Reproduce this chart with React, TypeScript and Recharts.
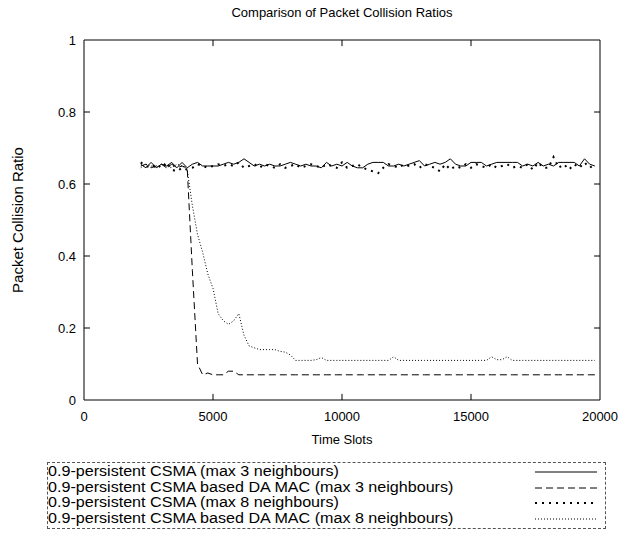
import { LineChart, Line, XAxis, YAxis, ReferenceArea, ReferenceLine } from "recharts";

// time slot samples
const timeSlots = [
  2200, 2400, 2600, 2800, 3000, 3200, 3400, 3600, 3800, 4000,
  4200, 4400, 4600, 4800, 5000, 5200, 5400, 5600, 5800, 6000,
  6200, 6400, 6600, 6800, 7000, 7200, 7400, 7600, 7800, 8000,
  8200, 8400, 8600, 8800, 9000, 9200, 9400, 9600, 9800, 10000,
  10200, 10400, 10600, 10800, 11000, 11200, 11400, 11600, 11800, 12000,
  12200, 12400, 12600, 12800, 13000, 13200, 13400, 13600, 13800, 14000,
  14200, 14400, 14600, 14800, 15000, 15200, 15400, 15600, 15800, 16000,
  16200, 16400, 16600, 16800, 17000, 17200, 17400, 17600, 17800, 18000,
  18200, 18400, 18600, 18800, 19000, 19200, 19400, 19600, 19800,
];

const csma3 = [
  0.655, 0.645, 0.66, 0.645, 0.655, 0.65, 0.66, 0.645, 0.66, 0.645,
  0.655, 0.66, 0.65, 0.65, 0.65, 0.65, 0.655, 0.66, 0.655, 0.66,
  0.67, 0.66, 0.65, 0.655, 0.65, 0.655, 0.65, 0.65, 0.655, 0.66,
  0.655, 0.65, 0.655, 0.65, 0.65, 0.645, 0.66, 0.65, 0.655, 0.65,
  0.66, 0.65, 0.645, 0.645, 0.655, 0.66, 0.66, 0.66, 0.65, 0.65,
  0.655, 0.65, 0.655, 0.66, 0.665, 0.65, 0.655, 0.66, 0.655, 0.66,
  0.67, 0.655, 0.65, 0.65, 0.66, 0.66, 0.66, 0.65, 0.655, 0.66,
  0.66, 0.66, 0.66, 0.66, 0.65, 0.655, 0.65, 0.66, 0.65, 0.655,
  0.65, 0.66, 0.66, 0.66, 0.66, 0.65, 0.67, 0.655, 0.65,
];

const daMac3 = [
  0.65, 0.655, 0.645, 0.65, 0.655, 0.645, 0.655, 0.645, 0.65, 0.645,
  0.36, 0.1, 0.07, 0.075, 0.07, 0.07, 0.07, 0.08, 0.08, 0.07,
  0.07, 0.07, 0.07, 0.07, 0.07, 0.07, 0.07, 0.07, 0.07, 0.07,
  0.07, 0.07, 0.07, 0.07, 0.07, 0.07, 0.07, 0.07, 0.07, 0.07,
  0.07, 0.07, 0.07, 0.07, 0.07, 0.07, 0.07, 0.07, 0.07, 0.07,
  0.07, 0.07, 0.07, 0.07, 0.07, 0.07, 0.07, 0.07, 0.07, 0.07,
  0.07, 0.07, 0.07, 0.07, 0.07, 0.07, 0.07, 0.07, 0.07, 0.07,
  0.07, 0.07, 0.07, 0.07, 0.07, 0.07, 0.07, 0.07, 0.07, 0.07,
  0.07, 0.07, 0.07, 0.07, 0.07, 0.07, 0.07, 0.07, 0.07,
];

const csma8 = [
  0.66, 0.65, 0.645, 0.655, 0.645, 0.66, 0.64, 0.635, 0.645, 0.64,
  0.645, 0.655, 0.65, 0.645, 0.65, 0.655, 0.65, 0.655, 0.65, 0.66,
  0.645, 0.65, 0.655, 0.645, 0.655, 0.65, 0.645, 0.655, 0.645, 0.65,
  0.655, 0.645, 0.65, 0.655, 0.65, 0.645, 0.655, 0.65, 0.645, 0.66,
  0.645, 0.65, 0.655, 0.645, 0.64, 0.635, 0.63, 0.645, 0.655, 0.65,
  0.645, 0.655, 0.65, 0.655, 0.645, 0.655, 0.65, 0.645, 0.635, 0.655,
  0.64, 0.65, 0.645, 0.655, 0.645, 0.655, 0.65, 0.645, 0.655, 0.645,
  0.65, 0.655, 0.645, 0.65, 0.645, 0.655, 0.64, 0.66, 0.645, 0.645,
  0.675, 0.645, 0.655, 0.64, 0.655, 0.645, 0.66, 0.645, 0.655,
];

const daMac8 = [
  0.645, 0.655, 0.65, 0.645, 0.655, 0.65, 0.645, 0.655, 0.65, 0.64,
  0.54, 0.46, 0.41, 0.35, 0.31, 0.24, 0.22, 0.21, 0.22, 0.24,
  0.18, 0.15, 0.145, 0.14, 0.14, 0.14, 0.14, 0.135, 0.133, 0.125,
  0.11, 0.11, 0.11, 0.11, 0.112, 0.118, 0.11, 0.11, 0.11, 0.11,
  0.11, 0.11, 0.11, 0.11, 0.11, 0.11, 0.11, 0.11, 0.11, 0.12,
  0.11, 0.11, 0.11, 0.11, 0.11, 0.11, 0.11, 0.11, 0.11, 0.11,
  0.11, 0.11, 0.11, 0.11, 0.11, 0.11, 0.11, 0.11, 0.12, 0.112,
  0.112, 0.12, 0.11, 0.11, 0.11, 0.11, 0.11, 0.11, 0.11, 0.11,
  0.11, 0.11, 0.11, 0.11, 0.11, 0.11, 0.11, 0.11, 0.11,
];

const xTicks = [0, 5000, 10000, 15000, 20000];
const yTicks = [0, 0.2, 0.4, 0.6, 0.8, 1];

const series = [
  { key: "csma3", name: "0.9-persistent CSMA (max 3 neighbours)", width: 1, dash: undefined },
  { key: "daMac3", name: "0.9-persistent CSMA based DA MAC (max 3 neighbours)", width: 1, dash: "7 4" },
  { key: "csma8", name: "0.9-persistent CSMA (max 8 neighbours)", width: 2, dash: "2 5" },
  { key: "daMac8", name: "0.9-persistent CSMA based DA MAC (max 8 neighbours)", width: 1, dash: "1 2" },
];

const rows = timeSlots.map((t, i) => ({
  t,
  csma3: csma3[i],
  daMac3: daMac3[i],
  csma8: csma8[i],
  daMac8: daMac8[i],
}));

const FONT = '"Liberation Sans", Arial, Helvetica, sans-serif';
const TICK_X = 230; // inward tick length in time slots (~6px)
const TICK_Y = 0.017;

export default function App() {
  return (
    <div style={{ position: "absolute", left: 0, top: 0, width: 626, height: 536, background: "#fff", fontFamily: FONT }}>
      <div style={{ position: "absolute", left: 84, width: 516, top: 5, textAlign: "center", fontSize: 13 }}>
        Comparison of Packet Collision Ratios
      </div>
      <LineChart width={626} height={450} data={rows} margin={{ top: 40, right: 26, bottom: 2, left: 0 }}>
        <XAxis
          type="number"
          dataKey="t"
          domain={[0, 20000]}
          ticks={xTicks}
          tickLine={false}
          axisLine={false}
          tickMargin={6}
          height={48}
          tick={{ fill: "#000", fontSize: 13, fontFamily: FONT }}
          label={{
            content: (p: any) => (
              <text x={p.viewBox.x + p.viewBox.width / 2} y={p.viewBox.y + 44} textAnchor="middle" fontSize={13} fontFamily={FONT}>
                Time Slots
              </text>
            ),
          }}
        />
        <YAxis
          type="number"
          domain={[0, 1]}
          ticks={yTicks}
          width={84}
          tickLine={false}
          axisLine={false}
          tickMargin={2}
          tick={{ fill: "#000", fontSize: 13, fontFamily: FONT }}
          label={{
            content: (p: any) => {
              const cx = p.viewBox.x + 23;
              const cy = p.viewBox.y + p.viewBox.height / 2;
              return (
                <text x={cx} y={cy} transform={`rotate(-90 ${cx} ${cy})`} textAnchor="middle" fontSize={15} fontFamily={FONT}>
                  Packet Collision Ratio
                </text>
              );
            },
          }}
        />
        <ReferenceArea x1={0} x2={20000} y1={0} y2={1} fill="none" stroke="#000" strokeWidth={1} />
        {xTicks.slice(1, -1).map((v) => (
          <ReferenceLine key={"xb" + v} segment={[{ x: v, y: 0 }, { x: v, y: TICK_Y }]} stroke="#000" />
        ))}
        {xTicks.slice(1, -1).map((v) => (
          <ReferenceLine key={"xt" + v} segment={[{ x: v, y: 1 }, { x: v, y: 1 - TICK_Y }]} stroke="#000" />
        ))}
        {yTicks.slice(1, -1).map((v) => (
          <ReferenceLine key={"yl" + v} segment={[{ x: 0, y: v }, { x: TICK_X, y: v }]} stroke="#000" />
        ))}
        {yTicks.slice(1, -1).map((v) => (
          <ReferenceLine key={"yr" + v} segment={[{ x: 20000 - TICK_X, y: v }, { x: 20000, y: v }]} stroke="#000" />
        ))}
        {series.map((s) => (
          <Line
            key={s.key}
            type="linear"
            dataKey={s.key}
            name={s.name}
            stroke="#000"
            strokeWidth={s.width}
            strokeDasharray={s.dash}
            dot={false}
            isAnimationActive={false}
          />
        ))}
      </LineChart>
      <div
        style={{
          position: "absolute",
          left: 47,
          top: 462,
          width: 559,
          height: 67,
          border: "1px dashed #555",
          boxSizing: "border-box",
          fontSize: 14,
        }}
      >
        {series.map((s, i) => (
          <div
            key={s.key}
            style={{
              position: "absolute",
              left: 0,
              top: 1 + i * 15.5,
              height: 15.5,
              lineHeight: "15.5px",
              whiteSpace: "nowrap",
              transform: "scaleX(1.15)",
              transformOrigin: "left center",
            }}
          >
            {s.name}
          </div>
        ))}
        {series.map((s, i) => (
          <svg key={"l" + s.key} style={{ position: "absolute", left: 487, top: 1 + i * 15.5 }} width={64} height={15}>
            <line x1={0} x2={62} y1={8} y2={8} stroke="#000" strokeWidth={s.width} strokeDasharray={s.dash} />
          </svg>
        ))}
      </div>
    </div>
  );
}
